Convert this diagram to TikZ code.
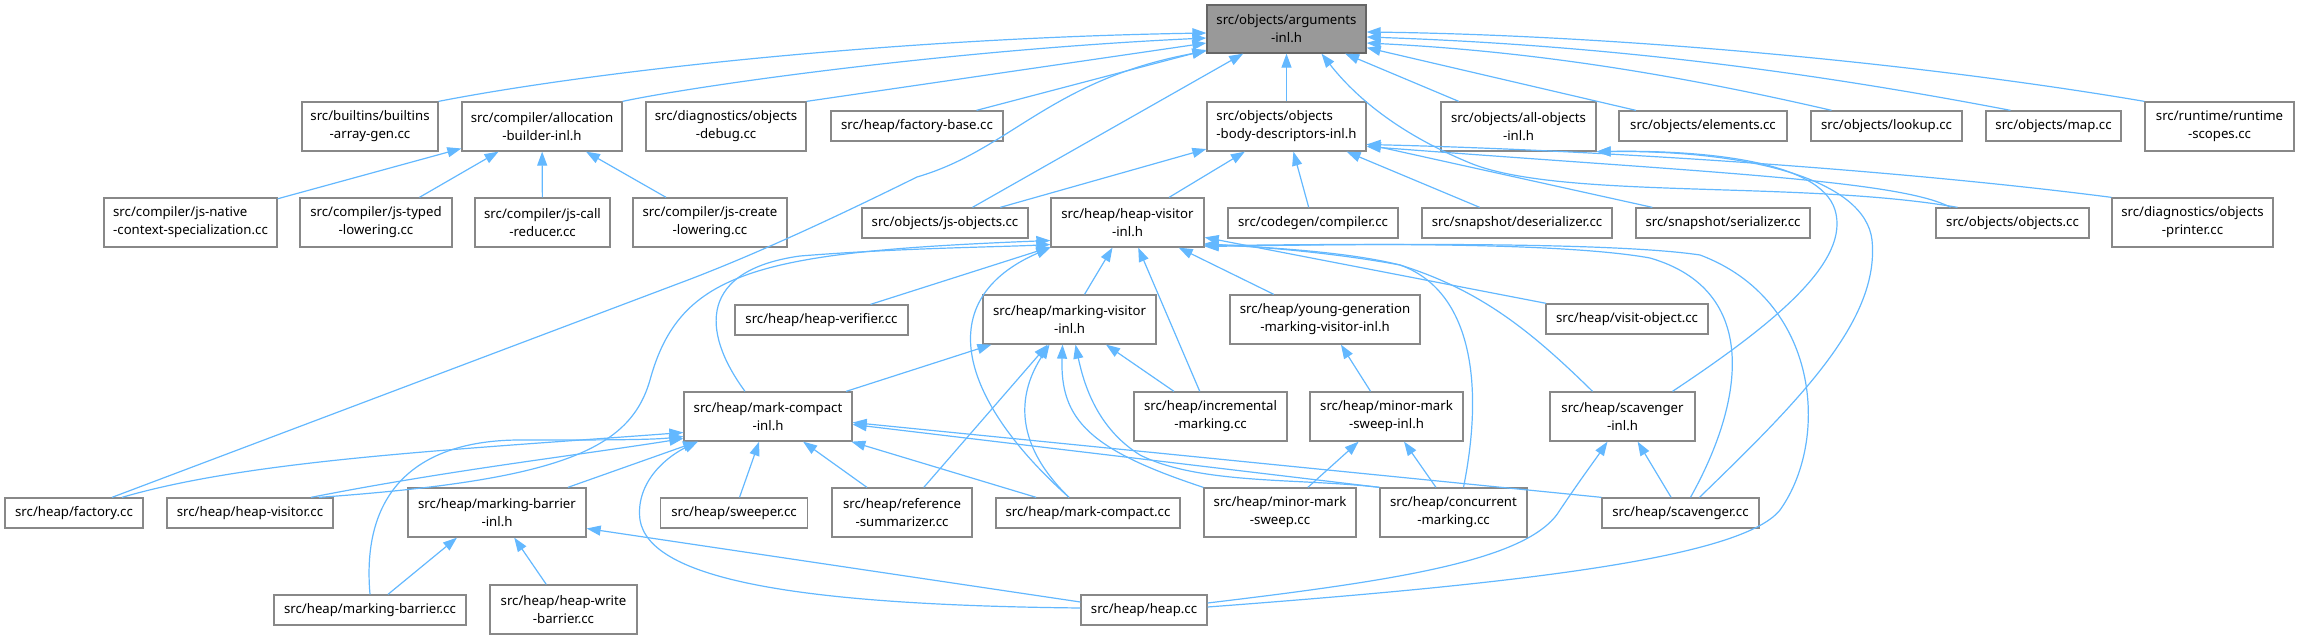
\documentclass[tikz,border=0pt]{standalone}
\usepackage{fontspec}
\setmainfont{Noto Sans}
\usetikzlibrary{arrows.meta}
\definecolor{edgeblue}{HTML}{63B8FF}
\definecolor{boxgray}{HTML}{888888}
\definecolor{rootline}{HTML}{666666}
\definecolor{rootgray}{HTML}{999999}
\tikzset{
  file/.style={draw=boxgray, line width=1.3pt, fill=white, inner sep=0pt,
    minimum height=30pt, align=center, font={\fontsize{13.2}{18}\selectfont}},
  two/.style={minimum height=49pt},
  root/.style={file, two, draw=rootline, fill=rootgray, minimum height=48pt},
  dep/.style={draw=edgeblue, line width=1.2pt, -{Triangle[length=14pt,width=10pt]}},
}

\begin{document}
\begin{tikzpicture}[x=1pt,y=-1pt]
    \useasboundingbox (0,0) rectangle (2297,639);
    % --- FILES ---
    \node[root, minimum width=159pt] (args) at (1286.5,29) {src/objects/arguments\\-inl.h};

    \node[file, two, minimum width=136pt] (builtins) at (370,126.5) {src/builtins/builtins\\-array-gen.cc};
    \node[file, two, minimum width=160pt] (alloc) at (542,126.5) {src/compiler/allocation\\-builder-inl.h};
    \node[file, two, minimum width=160pt] (objdebug) at (726,126.5) {src/diagnostics/objects\\-debug.cc};
    \node[file, minimum width=172pt] (factorybase) at (917,126) {src/heap/factory-base.cc};
    \node[file, two, minimum width=159pt, align=left] (bodydesc) at (1286.5,126.5) {src/objects/objects\\-body-descriptors-inl.h};
    \node[file, two, minimum width=155pt] (allobjects) at (1518.5,126.5) {src/objects/all-objects\\-inl.h};
    \node[file, minimum width=168pt] (elements) at (1703,126) {src/objects/elements.cc};
    \node[file, minimum width=151pt] (lookup) at (1886.5,126) {src/objects/lookup.cc};
    \node[file, minimum width=135pt] (map) at (2053.5,126) {src/objects/map.cc};
    \node[file, two, minimum width=149pt] (rtscopes) at (2219.5,126.5) {src/runtime/runtime\\-scopes.cc};

    \node[file, two, minimum width=173pt, align=left] (jsnative) at (190.5,222.5) {src/compiler/js-native\\-context-specialization.cc};
    \node[file, two, minimum width=152pt] (jstyped) at (376,222.5) {src/compiler/js-typed\\-lowering.cc};
    \node[file, two, minimum width=135pt] (jscall) at (542.5,222.5) {src/compiler/js-call\\-reducer.cc};
    \node[file, two, minimum width=154pt] (jscreate) at (710,222.5) {src/compiler/js-create\\-lowering.cc};
    \node[file, minimum width=166pt] (jsobjects) at (945,223) {src/objects/js-objects.cc};
    \node[file, two, minimum width=153pt] (hvinl) at (1127.5,222.5) {src/heap/heap-visitor\\-inl.h};
    \node[file, minimum width=170pt] (compiler) at (1313,223) {src/codegen/compiler.cc};
    \node[file, minimum width=190pt] (deser) at (1517,223) {src/snapshot/deserializer.cc};
    \node[file, minimum width=174pt] (ser) at (1723,223) {src/snapshot/serializer.cc};
    \node[file, minimum width=153pt] (objects) at (2012.5,223) {src/objects/objects.cc};
    \node[file, two, minimum width=161pt] (printer) at (2192.5,222.5) {src/diagnostics/objects\\-printer.cc};

    \node[file, minimum width=173pt] (verifier) at (821.5,320) {src/heap/heap-verifier.cc};
    \node[file, two, minimum width=173pt] (mvinl) at (1069.5,319.5) {src/heap/marking-visitor\\-inl.h};
    \node[file, two, minimum width=190pt] (younggen) at (1325,319.5) {src/heap/young-generation\\-marking-visitor-inl.h};
    \node[file, minimum width=162pt] (visitobj) at (1627,319) {src/heap/visit-object.cc};

    \node[file, two, minimum width=168pt] (mcinl) at (768,416.5) {src/heap/mark-compact\\-inl.h};
    \node[file, two, minimum width=153pt] (incmark) at (1210.5,416.5) {src/heap/incremental\\-marking.cc};
    \node[file, two, minimum width=153pt] (mmsinl) at (1386.5,416.5) {src/heap/minor-mark\\-sweep-inl.h};
    \node[file, two, minimum width=145pt] (scavinl) at (1622.5,416.5) {src/heap/scavenger\\-inl.h};

    \node[file, minimum width=138pt] (factory) at (74,513) {src/heap/factory.cc};
    \node[file, minimum width=166pt] (hvcc) at (250,513) {src/heap/heap-visitor.cc};
    \node[file, two, minimum width=178pt] (mbinl) at (497,512.5) {src/heap/marking-barrier\\-inl.h};
    \node[file, minimum width=147pt] (sweeper) at (734,513) {src/heap/sweeper.cc};
    \node[file, two, minimum width=140pt] (refsum) at (902,512.5) {src/heap/reference\\-summarizer.cc};
    \node[file, minimum width=184pt] (mccc) at (1088,513) {src/heap/mark-compact.cc};
    \node[file, two, minimum width=152pt] (mmscc) at (1280,512.5) {src/heap/minor-mark\\-sweep.cc};
    \node[file, two, minimum width=147pt] (concmark) at (1453.5,512.5) {src/heap/concurrent\\-marking.cc};
    \node[file, minimum width=157pt] (scavcc) at (1680.5,513) {src/heap/scavenger.cc};

    \node[file, minimum width=192pt] (mbcc) at (370,610) {src/heap/marking-barrier.cc};
    \node[file, two, minimum width=147pt] (hwb) at (563.5,609.5) {src/heap/heap-write\\-barrier.cc};
    \node[file, minimum width=126pt] (heapcc) at (1144,610) {src/heap/heap.cc};

    % --- INCLUDES OF arguments-inl.h ---
    \draw[dep] (builtins.north east) .. controls (600,70) and (900,38) .. ([yshift=-4pt]args.west);
    \draw[dep] (alloc.north east) .. controls (700,85) and (950,50) .. ([yshift=-9pt]args.west);
    \draw[dep] (objdebug.north east) -- ([yshift=-14pt]args.west);
    \draw[dep] (factorybase) -- (args);
    \draw[dep] ([xshift=38pt]factory.north) -- (680,283) .. controls (755,255) and (840,215) .. (917,177)
        .. controls (1010,150) and (1050,80) .. ([yshift=-22pt]args.west);
    \draw[dep] (jsobjects) -- (args);
    \draw[dep] (bodydesc) -- (args);
    \draw[dep] ([xshift=-55pt]objects.north) .. controls (1800,180) and (1560,200) .. (1470,163)
        .. controls (1390,130) and (1350,90) .. ([xshift=35pt]args.south);
    \draw[dep] (allobjects) -- (args);
    \draw[dep] (elements) -- (args);
    \draw[dep] ([xshift=-55pt]lookup.north) .. controls (1700,80) and (1550,52) .. ([yshift=-14pt]args.east);
    \draw[dep] ([xshift=-43pt]map.north) .. controls (1800,70) and (1600,45) .. ([yshift=-8pt]args.east);
    \draw[dep] (rtscopes.north west) .. controls (1900,60) and (1600,35) .. ([yshift=-3pt]args.east);

    % --- body descriptors ---
    \draw[dep] (hvinl) -- (bodydesc);
    \draw[dep] (jsobjects) -- (bodydesc);
    \draw[dep] (compiler) -- (bodydesc);
    \draw[dep] (deser) -- (bodydesc);
    \draw[dep] (ser) -- (bodydesc);
    \draw[dep] ([xshift=-62pt]objects.north) .. controls (1900,180) and (1700,172) .. ([yshift=-20pt]bodydesc.east);
    \draw[dep] (printer.north west) .. controls (1900,170) and (1600,150) .. ([yshift=-18pt]bodydesc.east);

    % --- allocation builder ---
    \draw[dep] (jsnative) -- (alloc);
    \draw[dep] (jstyped) -- (alloc);
    \draw[dep] (jscall) -- (alloc);
    \draw[dep] (jscreate) -- (alloc);

    % --- heap visitor ---
    \draw[dep] (verifier) -- (hvinl);
    \draw[dep] (mvinl) -- (hvinl);
    \draw[dep] (incmark) -- (hvinl);
    \draw[dep] (younggen) -- (hvinl);
    \draw[dep] (visitobj) -- (hvinl);
    \draw[dep] ([xshift=-23pt]mcinl.north) .. controls (700,330) and (700,270) .. (800,256)
        .. controls (900,248) and (1000,247) .. ([yshift=-22pt]hvinl.west);
    \draw[dep] ([xshift=-19pt]mccc.north) .. controls (960,400) and (930,300) .. (hvinl.south west);
    \draw[dep] ([xshift=69pt]hvcc.north) .. controls (560,480) and (630,450) .. (650,380)
        .. controls (680,270) and (760,252) .. ([yshift=-18pt]hvinl.west);
    \draw[dep] ([xshift=-30pt]scavinl.north) .. controls (1530,330) and (1480,290) .. (1400,265)
        .. controls (1330,252) and (1250,246) .. ([yshift=-22pt]hvinl.east);
    \draw[dep] ([xshift=10pt]scavcc.north) .. controls (1745,400) and (1760,290) .. (1650,258)
        .. controls (1550,240) and (1300,245) .. ([yshift=-23pt]hvinl.east);
    \draw[dep] ([xshift=10pt]concmark.north) .. controls (1485,380) and (1470,290) .. (1400,265)
        .. controls (1340,250) and (1250,247) .. ([yshift=-21pt]hvinl.east);
    \draw[dep] ([yshift=3pt]heapcc.east) .. controls (1500,585) and (1740,560) .. (1780,510)
        .. controls (1830,440) and (1820,300) .. (1700,255)
        .. controls (1600,240) and (1300,245) .. ([yshift=-24pt]hvinl.east);

    % --- marking visitor ---
    \draw[dep] (mcinl) -- (mvinl);
    \draw[dep] (refsum) -- (mvinl);
    \draw[dep] ([xshift=-19pt]mccc.north) .. controls (1010,440) and (1020,390) .. ([xshift=-20pt]mvinl.south);
    \draw[dep] (incmark) -- (mvinl);
    \draw[dep] (mmscc.north west) .. controls (1090,450) and (1060,420) .. ([xshift=-7pt]mvinl.south);
    \draw[dep] (concmark.north west) .. controls (1300,478) and (1200,485) .. (1140,455)
        .. controls (1100,430) and (1085,390) .. ([xshift=6pt]mvinl.south);

    % --- young generation, minor mark sweep, scavenger ---
    \draw[dep] (mmsinl) -- (younggen);
    \draw[dep] (mmscc) -- (mmsinl);
    \draw[dep] (concmark) -- (mmsinl);
    \draw[dep] (scavcc) -- (scavinl);
    \draw[dep] ([yshift=7pt]heapcc.east) .. controls (1400,580) and (1530,560) .. (1560,510)
        .. controls (1580,480) and (1595,460) .. ([xshift=-15pt]scavinl.south);
    \draw[dep] ([xshift=50pt]scavinl.north) .. controls (1780,320) and (1850,260) .. (1835,210)
        .. controls (1820,160) and (1700,150) .. (allobjects.south east);
    \draw[dep] ([xshift=19pt]scavcc.north) .. controls (1800,400) and (1880,320) .. (1872,240)
        .. controls (1865,180) and (1750,150) .. (allobjects.south east);

    % --- mark compact ---
    \draw[dep] ([xshift=48pt]factory.north) .. controls (250,460) and (450,450) .. ([yshift=-16pt]mcinl.west);
    \draw[dep] ([xshift=61pt]hvcc.north) .. controls (450,470) and (580,455) .. ([yshift=-22pt]mcinl.west);
    \draw[dep] (mbcc.north) .. controls (360,480) and (430,440) .. (520,440)
        .. controls (600,440) and (650,440) .. ([yshift=-20pt]mcinl.west);
    \draw[dep] (mbinl) -- (mcinl);
    \draw[dep] (sweeper) -- (mcinl);
    \draw[dep] (refsum) -- (mcinl);
    \draw[dep] (mccc) -- (mcinl);
    \draw[dep] ([yshift=2pt]heapcc.west) .. controls (800,605) and (650,580) .. (640,520)
        .. controls (635,480) and (670,455) .. ([xshift=-70pt]mcinl.south);
    \draw[dep] (concmark.north west) -- ([yshift=-8pt]mcinl.east);
    \draw[dep] (scavcc.north west) -- ([yshift=-6pt]mcinl.east);

    % --- marking barrier ---
    \draw[dep] ([xshift=18pt]mbcc.north) -- ([xshift=-40pt]mbinl.south);
    \draw[dep] (hwb) -- (mbinl);
    \draw[dep] ([yshift=8pt]heapcc.west) -- ([yshift=-16pt]mbinl.east);
\end{tikzpicture}
\end{document}
